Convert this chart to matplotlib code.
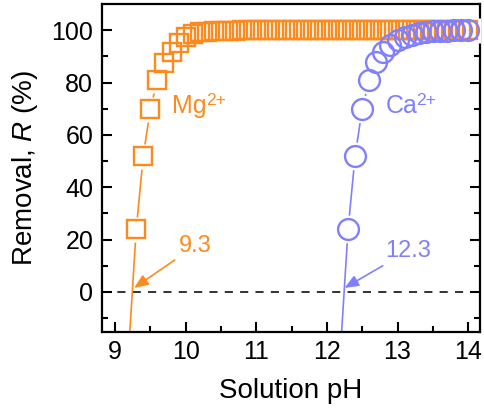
"""
Removal of Mg2+ / Ca2+ vs solution pH
"""

import matplotlib
matplotlib.use("Agg")
import matplotlib.pyplot as plt

plt.rcParams['font.family'] = ['Liberation Sans', 'DejaVu Sans']
plt.rcParams['mathtext.fontset'] = 'custom'
plt.rcParams['mathtext.rm'] = 'Liberation Sans'
plt.rcParams['mathtext.it'] = 'Liberation Sans:italic'

ORANGE = '#FF8A1C'
BLUE = '#8080FF'

# Mg2+ data
mg_ph = [9.3, 9.4, 9.5, 9.6, 9.7, 9.8, 9.9, 10.0, 10.1, 10.2, 10.3, 10.4,
         10.5, 10.6, 10.7, 10.8, 10.9, 11.0, 11.1, 11.2, 11.3, 11.4, 11.5,
         11.6, 11.7, 11.8, 11.9, 12.0, 12.1, 12.2, 12.3, 12.4, 12.5, 12.6,
         12.7, 12.8, 12.9, 13.0, 13.1, 13.2, 13.3, 13.4, 13.5, 13.6, 13.7,
         13.8, 13.9, 14.0]
mg_R = [24, 52, 70, 81, 87.7, 91.7, 95.1, 97.4, 98.7, 99.2, 99.5, 99.7,
        99.8, 99.9, 99.9, 100, 100, 100, 100, 100, 100, 100, 100,
        100, 100, 100, 100, 100, 100, 100, 100, 100, 100, 100,
        100, 100, 100, 100, 100, 100, 100, 100, 100, 100, 100,
        100, 100, 100]

# Ca2+ data
ca_ph = [12.3, 12.4, 12.5, 12.6, 12.7, 12.8, 12.9, 13.0, 13.1, 13.2, 13.3,
         13.4, 13.5, 13.6, 13.7, 13.8, 13.9, 14.0]
ca_R = [24, 52, 70, 81, 88, 91.7, 94.3, 96.2, 97.5, 98.4, 99.0,
        99.4, 99.7, 99.85, 99.9, 100, 100, 100]

# extrapolation to R = 0
mg_ext_ph = [9.30, 9.20]
mg_ext_R = [24, -19]
ca_ext_ph = [12.30, 12.20]
ca_ext_R = [24, -19]

fig = plt.figure(figsize=(4.84, 4.19), dpi=100)
ax = fig.add_axes([0.21, 0.208, 0.782, 0.782])

ax.axhline(0, color='#222222', lw=1.3, ls=(0, (4.5, 4)), zorder=1)

# connecting lines
ax.plot(mg_ph, mg_R, color=ORANGE, lw=1.2, zorder=2)
ax.plot(mg_ext_ph, mg_ext_R, color=ORANGE, lw=1.2, zorder=2)
ax.plot(ca_ph, ca_R, color=BLUE, lw=1.2, zorder=2)
ax.plot(ca_ext_ph, ca_ext_R, color=BLUE, lw=1.2, zorder=2)

# white masks -> gap between line and symbol
ax.plot(mg_ph, mg_R, ls='none', marker='s', ms=18, mfc='white', mec='none', zorder=3)
ax.plot(ca_ph, ca_R, ls='none', marker='o', ms=20, mfc='white', mec='none', zorder=3)

# hollow symbols
ax.plot(mg_ph, mg_R, ls='none', marker='s', ms=13, mfc='none', mec=ORANGE, mew=1.7, zorder=4)
ax.plot(ca_ph, ca_R, ls='none', marker='o', ms=15, mfc='none', mec=BLUE, mew=1.7, zorder=4)

# ion labels (superscript placed by hand to keep "2+" tight)
ax.text(9.8, 68.2, 'Mg', color=ORANGE, fontsize=18, va='baseline', ha='left')
ax.annotate('2+', xy=(9.8, 68.2), xytext=(25.0, 6.0), textcoords='offset points',
            color=ORANGE, fontsize=12.5, va='baseline', ha='left')
ax.text(12.83, 68.2, 'Ca', color=BLUE, fontsize=18, va='baseline', ha='left')
ax.annotate('2+', xy=(12.83, 68.2), xytext=(22.0, 6.0), textcoords='offset points',
            color=BLUE, fontsize=12.5, va='baseline', ha='left')

ax.annotate('9.3', xy=(9.27, 1.5), xytext=(9.9, 17.5), color=ORANGE, fontsize=17,
            va='center', ha='left',
            arrowprops=dict(arrowstyle='-|>,head_length=0.6,head_width=0.25', color=ORANGE,
                            lw=1.2, mutation_scale=14, shrinkA=1, shrinkB=0))
ax.annotate('12.3', xy=(12.25, 1.5), xytext=(12.82, 15.5), color=BLUE, fontsize=17,
            va='center', ha='left',
            arrowprops=dict(arrowstyle='-|>,head_length=0.6,head_width=0.25', color=BLUE,
                            lw=1.2, mutation_scale=14, shrinkA=1, shrinkB=0))

ax.set_xlim(8.81, 14.17)
ax.set_ylim(-15.3, 110)
ax.set_xticks([9, 10, 11, 12, 13, 14])
ax.set_xticks([9.5, 10.5, 11.5, 12.5, 13.5], minor=True)
ax.set_yticks([0, 20, 40, 60, 80, 100])
ax.set_yticks([-10, 10, 30, 50, 70, 90], minor=True)
ax.tick_params(which='both', direction='in', right=True, top=False, width=1.5,
               labelsize=18, pad=6)
ax.tick_params(which='major', length=7)
ax.tick_params(which='minor', length=4.5)
for s in ax.spines.values():
    s.set_linewidth(1.6)

ax.set_xlabel('Solution pH', fontsize=20, labelpad=10)
ax.set_ylabel('Removal, $R$ (%)', fontsize=20, labelpad=8)

fig.savefig('out.png', dpi=100)
